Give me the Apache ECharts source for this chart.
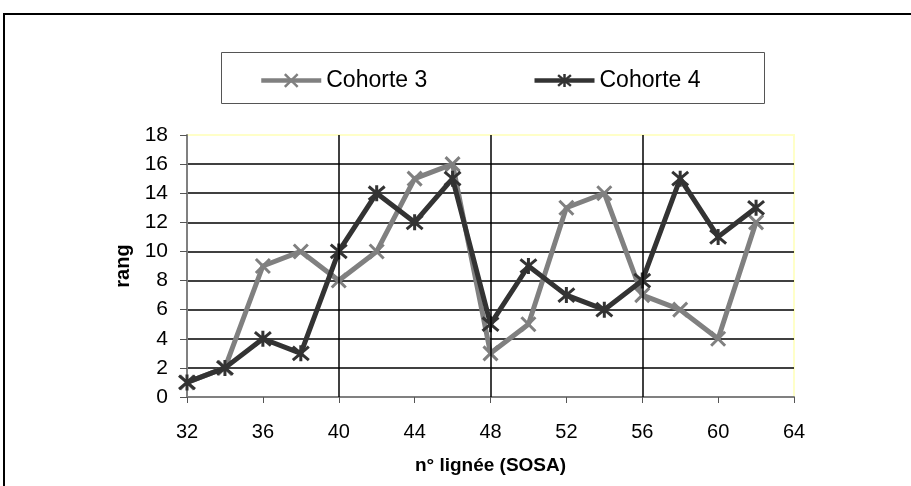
<!DOCTYPE html>
<html>
<head>
<meta charset="utf-8">
<script src="https://cdn.jsdelivr.net/npm/echarts@6/dist/echarts.min.js"></script>
<style>
  html, body { margin: 0; padding: 0; background: #fff; }
  #chart { width: 911px; height: 486px; }
</style>
</head>
<body>
<div id="chart"></div>
<script>
// n° lignée (SOSA)
const sosa = [32, 34, 36, 38, 40, 42, 44, 46, 48, 50, 52, 54, 56, 58, 60, 62];
const cohorte3 = [1, 2, 9, 10, 8, 10, 15, 16, 3, 5, 13, 14, 7, 6, 4, 12];
const cohorte4 = [1, 2, 4, 3, 10, 14, 12, 15, 5, 9, 7, 6, 8, 15, 11, 13];
// vertical lines of the plot
const verticals = [40, 48, 56];

const crossPath = 'path://M0,0L10,10M10,0L0,10';
const starPath = 'path://M5,0L5,10M0.8,0.8L9.2,9.2M9.2,0.8L0.8,9.2';
const font = 'Liberation Sans, Arial, sans-serif';

const toPairs = (xs, ys) => xs.map((x, i) => [x, ys[i]]);

const option = {
  animation: false,
  textStyle: { fontFamily: font, color: '#000' },
  graphic: [
    {
      type: 'rect',
      shape: { x: 4, y: 14, width: 960, height: 600 },
      style: { fill: 'none', stroke: '#000', lineWidth: 2 },
      silent: true
    },
    {
      type: 'rect',
      shape: { x: 221.5, y: 52.5, width: 543, height: 51 },
      style: { fill: '#fff', stroke: '#555', lineWidth: 1 },
      silent: true,
      z: 0
    }
  ],
  legend: {
    top: 64,
    left: 254,
    itemWidth: 60,
    itemHeight: 16,
    itemGap: 105,
    lineStyle: { width: 4.5 },
    itemStyle: { borderWidth: 2.5 },
    textStyle: { fontSize: 23, fontFamily: font, color: '#000' },
    data: ['Cohorte 3', 'Cohorte 4'],
    z: 5
  },
  grid: {
    left: 187,
    right: 117,
    top: 135,
    bottom: 89,
    show: true,
    backgroundColor: '#fff',
    borderColor: '#ffffc8',
    borderWidth: 2
  },
  xAxis: {
    type: 'value',
    min: 32,
    max: 64,
    interval: 4,
    name: 'n° lignée (SOSA)',
    nameLocation: 'middle',
    nameGap: 59,
    nameTextStyle: { fontSize: 19, fontWeight: 'bold', color: '#000' },
    axisLine: { show: true, lineStyle: { color: '#808080', width: 2 } },
    axisTick: { show: true, length: 6, lineStyle: { color: '#555' } },
    axisLabel: { fontSize: 20, color: '#000', margin: 25 },
    splitLine: { show: false }
  },
  yAxis: {
    type: 'value',
    min: 0,
    max: 18,
    interval: 2,
    name: 'rang',
    nameLocation: 'middle',
    nameGap: 52,
    nameTextStyle: { fontSize: 20, fontWeight: 'bold', color: '#000' },
    axisLine: { show: true, lineStyle: { color: '#808080', width: 2 } },
    axisTick: { show: true, length: 7, lineStyle: { color: '#555' } },
    axisLabel: { fontSize: 21, color: '#000', margin: 19 },
    splitLine: { show: true, showMinLine: false, showMaxLine: false, lineStyle: { color: '#000', width: 1.5 } }
  },
  series: [
    {
      name: 'Cohorte 3',
      type: 'line',
      data: toPairs(sosa, cohorte3),
      symbol: crossPath,
      symbolSize: 14,
      color: '#808080',
      lineStyle: { color: '#808080', width: 5 },
      itemStyle: { color: '#808080', borderColor: '#808080', borderWidth: 3 },
      markLine: {
        silent: true,
        symbol: 'none',
        label: { show: false },
        lineStyle: { color: '#000', width: 1.5, type: 'solid' },
        data: verticals.map(v => ({ xAxis: v }))
      },
      z: 3
    },
    {
      name: 'Cohorte 4',
      type: 'line',
      data: toPairs(sosa, cohorte4),
      symbol: starPath,
      symbolSize: 16,
      color: '#333333',
      lineStyle: { color: '#333333', width: 5 },
      itemStyle: { color: '#333333', borderColor: '#333333', borderWidth: 3 },
      z: 4
    }
  ]
};

const myChart = echarts.init(document.getElementById('chart'));
myChart.setOption(option);
</script>
</body>
</html>
